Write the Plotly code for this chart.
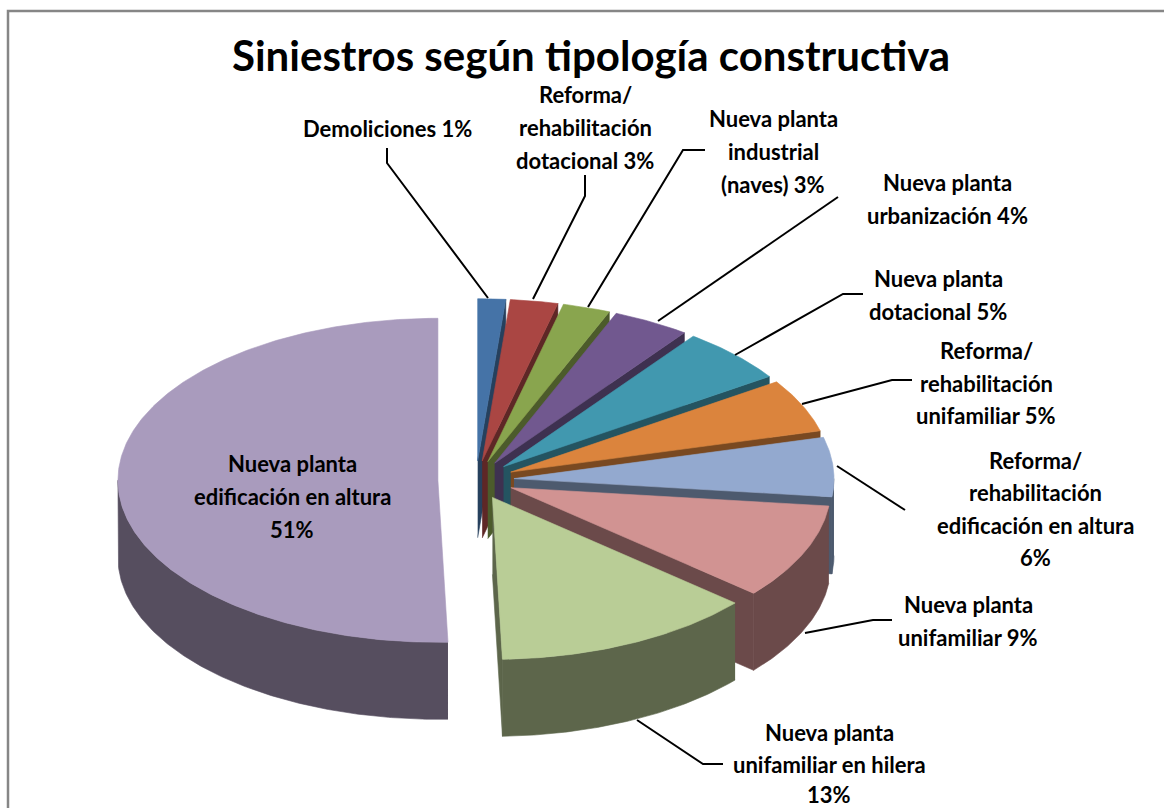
import numpy as np
import plotly.graph_objects as go

# ---- data ----
categories = ["Demoliciones", "Reforma/rehabilitación dotacional", "Nueva planta industrial (naves)",
              "Nueva planta urbanización", "Nueva planta dotacional", "Reforma/rehabilitación unifamiliar",
              "Reforma/rehabilitación edificación en altura", "Nueva planta unifamiliar",
              "Nueva planta unifamiliar en hilera", "Nueva planta edificación en altura"]
values = [1.4, 2.4, 2.4, 3.9, 5.5, 5.3, 5.9, 9.5, 13.2, 50.5]
top_colors = ["#4573A7", "#AA4643", "#89A54E", "#71588F", "#4198AF", "#DB843D", "#93A9CF", "#D19392", "#B9CD96", "#A99BBD"]
wall_colors = ["#26405D", "#5E2726", "#4C5B2B", "#3E3150", "#245461", "#794921", "#4D5A6E", "#6B4A4A", "#5D664B", "#564E5F"]

title_text = "Siniestros según tipología constructiva"
label_lines = [
    (387, [("Demoliciones 1%", 128)]),
    (585, [("Reforma/", 94), ("rehabilitación", 127), ("dotacional 3%", 160)]),
    (773, [("Nueva planta", 118), ("industrial", 151), ("(naves) 3%", 184)]),
    (947, [("Nueva planta", 182), ("urbanización 4%", 215)]),
    (938, [("Nueva planta", 278), ("dotacional 5%", 311)]),
    (986, [("Reforma/", 350), ("rehabilitación", 383), ("unifamiliar 5%", 415)]),
    (1035, [("Reforma/", 460), ("rehabilitación", 492), ("edificación en altura", 525), ("6%", 557)]),
    (968, [("Nueva planta", 604), ("unifamiliar 9%", 637)]),
    (829, [("Nueva planta", 732), ("unifamiliar en hilera", 764), ("13%", 794)]),
    (292, [("Nueva planta", 463), ("edificación en altura", 496), ("51%", 529)]),
]
leaders = [
    [(387, 148), (387, 163), (488, 298)],
    [(585, 175), (585, 196), (533, 299)],
    [(705, 150), (683, 150), (588, 307)],
    [(838, 197), (658, 321)],
    [(863, 294), (843, 294), (735, 355)],
    [(912, 380), (892, 380), (802, 404)],
    [(905, 510), (837, 466)],
    [(892, 620), (873, 620), (805, 633)],
    [(723, 764), (703, 764), (637, 720)],
]

# ---- pie geometry (page pixels) ----
CX, CY, RX, RY, DEPTH, EXPLODE = 476, 480, 320, 162, 77, 0.119
FONT = "Lato, Carlito, Calibri, sans-serif"

fig = go.Figure()


def poly(xs, ys, color, name):
    fig.add_trace(go.Scatter(x=list(xs), y=list(ys), mode="lines", fill="toself", fillcolor=color,
                             line=dict(color=color, width=0.6), name=name, hoverinfo="name", showlegend=False))


cum = np.cumsum([0] + values) / sum(values) * 360.0
for i, name in enumerate(categories):
    a, b = cum[i], cum[i + 1]
    m = np.radians((a + b) / 2)
    ax = CX + EXPLODE * RX * np.sin(m)
    ay = CY - EXPLODE * RY * np.cos(m)
    ts = np.radians(np.linspace(a, b, max(4, int(b - a) * 2)))
    ex = ax + RX * np.sin(ts)
    ey = ay - RY * np.cos(ts)
    # radial wall along the slice's closing edge
    if cum[i + 1] < 181:
        poly([ax, ex[-1], ex[-1], ax], [ay, ey[-1], ey[-1] + DEPTH, ay + DEPTH], wall_colors[i], name)
    # outer wall, only the part turned to the viewer
    lo, hi = max(a, 90.0), min(b, 270.0)
    if hi > lo:
        tw = np.radians(np.linspace(lo, hi, max(4, int(hi - lo) * 2)))
        wx = ax + RX * np.sin(tw)
        wy = ay - RY * np.cos(tw)
        poly(np.r_[wx, wx[::-1]], np.r_[wy, wy[::-1] + DEPTH], wall_colors[i], name)
    # top face
    poly(np.r_[ax, ex, ax], np.r_[ay, ey, ay], top_colors[i], name)

for pts in leaders:
    fig.add_trace(go.Scatter(x=[p[0] for p in pts], y=[p[1] for p in pts], mode="lines",
                             line=dict(color="#000000", width=2), hoverinfo="skip", showlegend=False))

annotations = [dict(x=591, y=55, text=f"<b>{title_text}</b>", showarrow=False, xref="x", yref="y",
                    font=dict(family=FONT, size=42, color="#000000"))]
for x, lines in label_lines:
    for text, y in lines:
        annotations.append(dict(x=x, y=y, text=f"<b>{text}</b>", showarrow=False, xref="x", yref="y",
                                font=dict(family=FONT, size=22, color="#000000")))

fig.update_layout(
    width=1164, height=808, margin=dict(l=0, r=0, t=0, b=0),
    paper_bgcolor="#FFFFFF", plot_bgcolor="#FFFFFF", showlegend=False,
    xaxis=dict(range=[0, 1164], visible=False, fixedrange=True),
    yaxis=dict(range=[808, 0], visible=False, fixedrange=True),
    annotations=annotations,
    shapes=[dict(type="rect", xref="x", yref="y", x0=8, y0=11, x1=1180, y1=830,
                 line=dict(color="#868686", width=2.5), layer="below")],
)
fig.write_html("out.html", config={"displayModeBar": False},
               post_script="document.body.style.margin='0';document.body.style.overflow='hidden';")
